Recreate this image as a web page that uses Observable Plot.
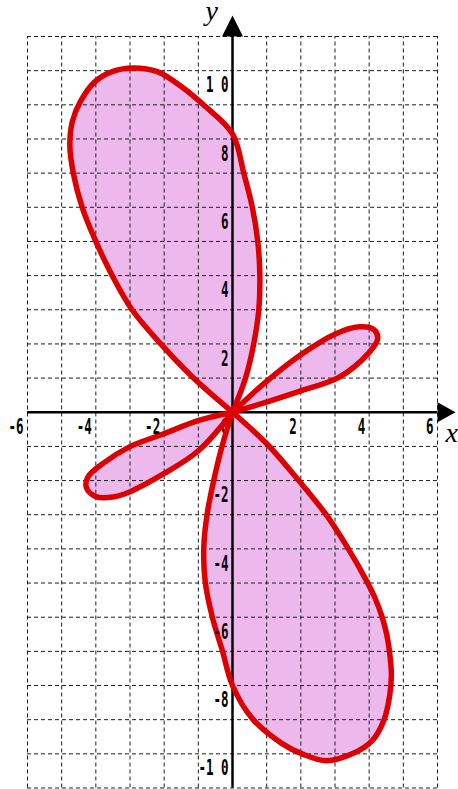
<!DOCTYPE html>
<html>
<head>
<meta charset="utf-8">
<script src="https://cdn.jsdelivr.net/npm/d3@7"></script>
<script src="https://cdn.jsdelivr.net/npm/@observablehq/plot@0.6"></script>
<style>
  html, body { margin: 0; padding: 0; background: #fff; }
  #chart svg { display: block; }
</style>
</head>
<body>
<div id="chart"></div>
<script>
// Four-leaved polar curve, traced as points (x, y) around each leaf.
const leafUpper = [[0,0],[0.38,1],[0.62,2],[0.77,3],[0.80,4],[0.74,5],[0.58,6],[0.33,7],[0,8.15],
  [-0.85,9],[-1.45,9.5],[-2.2,9.97],[-2.9,10.08],[-3.5,9.98],[-4.0,9.7],[-4.45,9.1],[-4.69,8.5],
  [-4.76,7.8],[-4.66,7.0],[-4.40,6.0],[-4.0,5.0],[-3.52,4],[-2.94,3],[-2.1,2],[-1.14,1],[0,0]];
const leafLeft = [[0,0],[-0.99,-0.24],[-2.01,-0.63],[-3.03,-1.02],[-3.81,-1.51],[-4.22,-1.88],
  [-4.28,-2.2],[-4.0,-2.47],[-3.5,-2.48],[-3.03,-2.34],[-2.01,-1.80],[-0.99,-1.12],[0,0]];
const leafLower = [[0,0],[1.01,-0.93],[1.94,-2.0],[2.72,-2.97],[3.36,-3.95],[3.92,-4.93],[4.18,-5.46],
  [4.38,-6.0],[4.51,-6.49],[4.59,-6.97],[4.65,-7.66],[4.6,-8.3],[4.43,-9.02],[4.09,-9.61],[3.5,-10.0],
  [2.75,-10.2],[2.04,-10.0],[1.45,-9.70],[0.58,-8.97],[0,-8.0],[-0.30,-6.97],[-0.59,-6.0],[-0.80,-4.95],
  [-0.84,-3.95],[-0.74,-2.97],[-0.55,-2.0],[-0.30,-0.97],[0,0]];
const leafRight = [[0,0],[0.97,0.88],[2.04,1.71],[3.01,2.29],[3.7,2.5],[4.14,2.42],[4.25,2.15],
  [3.99,1.74],[3.11,1.02],[2.04,0.64],[0.97,0.29],[0,0]];

// Axis ticks and their printed labels
const xTicks = [-6, -4, -2, 0, 2, 4, 6];
const xTickLabels = ["-6", "-4", "-2", "0", "2", "4", "6"];
const yTicks = [10, 8, 6, 4, 2, -2, -4, -6, -8, -10];
const yTickLabels = ["1 0", "8", "6", "4", "2", "-2", "-4", "-6", "-8", "-1 0"];

// Unit grid lines
const gridX = [-6, -5, -4, -3, -2, -1, 0, 1, 2, 3, 4, 5, 6];
const gridY = [-11, -10, -9, -8, -7, -6, -5, -4, -3, -2, -1, 0, 1, 2, 3, 4, 5, 6, 7, 8, 9, 10, 11];

const leaves = [
  ["upper", leafUpper], ["left", leafLeft], ["lower", leafLower], ["right", leafRight]
].flatMap(([name, pts]) => pts.map(([x, y]) => ({leaf: name, x, y})));

const xTickData = xTicks.map((v, i) => ({x: v, y: 0, label: xTickLabels[i]}));
const yTickData = yTicks.map((v, i) => ({x: 0, y: v, label: yTickLabels[i]}));
// the origin's "0" sits under the curve; the others sit on top of it
const originLabel = xTickData.filter(d => d.x === 0);
const tickLabels = [...xTickData.filter(d => d.x !== 0), ...yTickData];

// Filled arrowheads for the two axes
const headRight = {draw(ctx) { ctx.moveTo(0, -10); ctx.lineTo(18, 0); ctx.lineTo(0, 10); ctx.closePath(); }};
const headUp = {draw(ctx) { ctx.moveTo(-10.5, 0); ctx.lineTo(0, -21); ctx.lineTo(10.5, 0); ctx.closePath(); }};

const gridStyle = {stroke: "#1e1e1e", strokeWidth: 1, strokeDasharray: "4,3"};
const labelFont = {fontFamily: "DejaVu Sans Mono", fontWeight: "bold", fontSize: 12.5, fill: "black"};
const labelPos = {x: "x", y: "y", text: "label", textAnchor: "end", lineAnchor: "middle", dx: -4, dy: 15};

const svg = Plot.plot({
  width: 458,
  height: 789,
  marginLeft: 27,
  marginRight: 21,
  marginTop: 36,
  marginBottom: 1.5,
  style: {background: "white", overflow: "visible"},
  x: {domain: [-6, 6], axis: null},
  y: {domain: [-11, 11], axis: null},
  marks: [
    Plot.line(leaves, {x: "x", y: "y", z: "leaf", curve: "catmull-rom", fill: "#edb9ed", stroke: "none"}),
    Plot.ruleX(gridX, {x: d => d, y1: -11, y2: 11, ...gridStyle}),
    Plot.ruleY(gridY, {y: d => d, x1: -6, x2: 6, ...gridStyle}),
    Plot.ruleY([0], {x1: -6, x2: 6, stroke: "black", strokeWidth: 2.5}),
    Plot.ruleX([0], {y1: -11, y2: 11, stroke: "black", strokeWidth: 2.5}),
    Plot.dot([[6, 0]], {x: d => d[0], y: d => d[1], symbol: headRight, fill: "black", stroke: "none"}),
    Plot.dot([[0, 11]], {x: d => d[0], y: d => d[1], symbol: headUp, fill: "black", stroke: "none"}),
    Plot.text(originLabel, {...labelPos, ...labelFont}),
    Plot.text([[6, 0]], {x: d => d[0], y: d => d[1], text: () => "x", textAnchor: "start", lineAnchor: "bottom",
      dx: 8, dy: 30, fontFamily: "Liberation Serif", fontStyle: "italic", fontSize: 28, fill: "black"}),
    Plot.text([[0, 11]], {x: d => d[0], y: d => d[1], text: () => "y", textAnchor: "start", lineAnchor: "bottom",
      dx: -27, dy: -17, fontFamily: "Liberation Serif", fontStyle: "italic", fontSize: 28, fill: "black"}),
    Plot.line(leaves, {x: "x", y: "y", z: "leaf", curve: "catmull-rom", fill: "none", stroke: "#dd0000",
      strokeWidth: 5.5, strokeLinejoin: "round", strokeLinecap: "round"}),
    Plot.text(tickLabels, {...labelPos, ...labelFont})
  ]
});

// Tall, narrow tick digits: stretch each label vertically about its anchor
d3.select(svg).selectAll("text").each(function () {
  const g = this.closest("g");
  const fam = (g && g.getAttribute("font-family")) || this.getAttribute("font-family") || "";
  if (!fam.includes("DejaVu Sans Mono")) return;
  const t = this.getAttribute("transform");
  if (t) {
    this.setAttribute("transform", t + " scale(1,1.65)");
  } else {
    const x = +this.getAttribute("x") || 0, y = +this.getAttribute("y") || 0;
    this.removeAttribute("x");
    this.removeAttribute("y");
    this.setAttribute("transform", `translate(${x},${y}) scale(1,1.65)`);
  }
});

document.getElementById("chart").appendChild(svg);
</script>
</body>
</html>
